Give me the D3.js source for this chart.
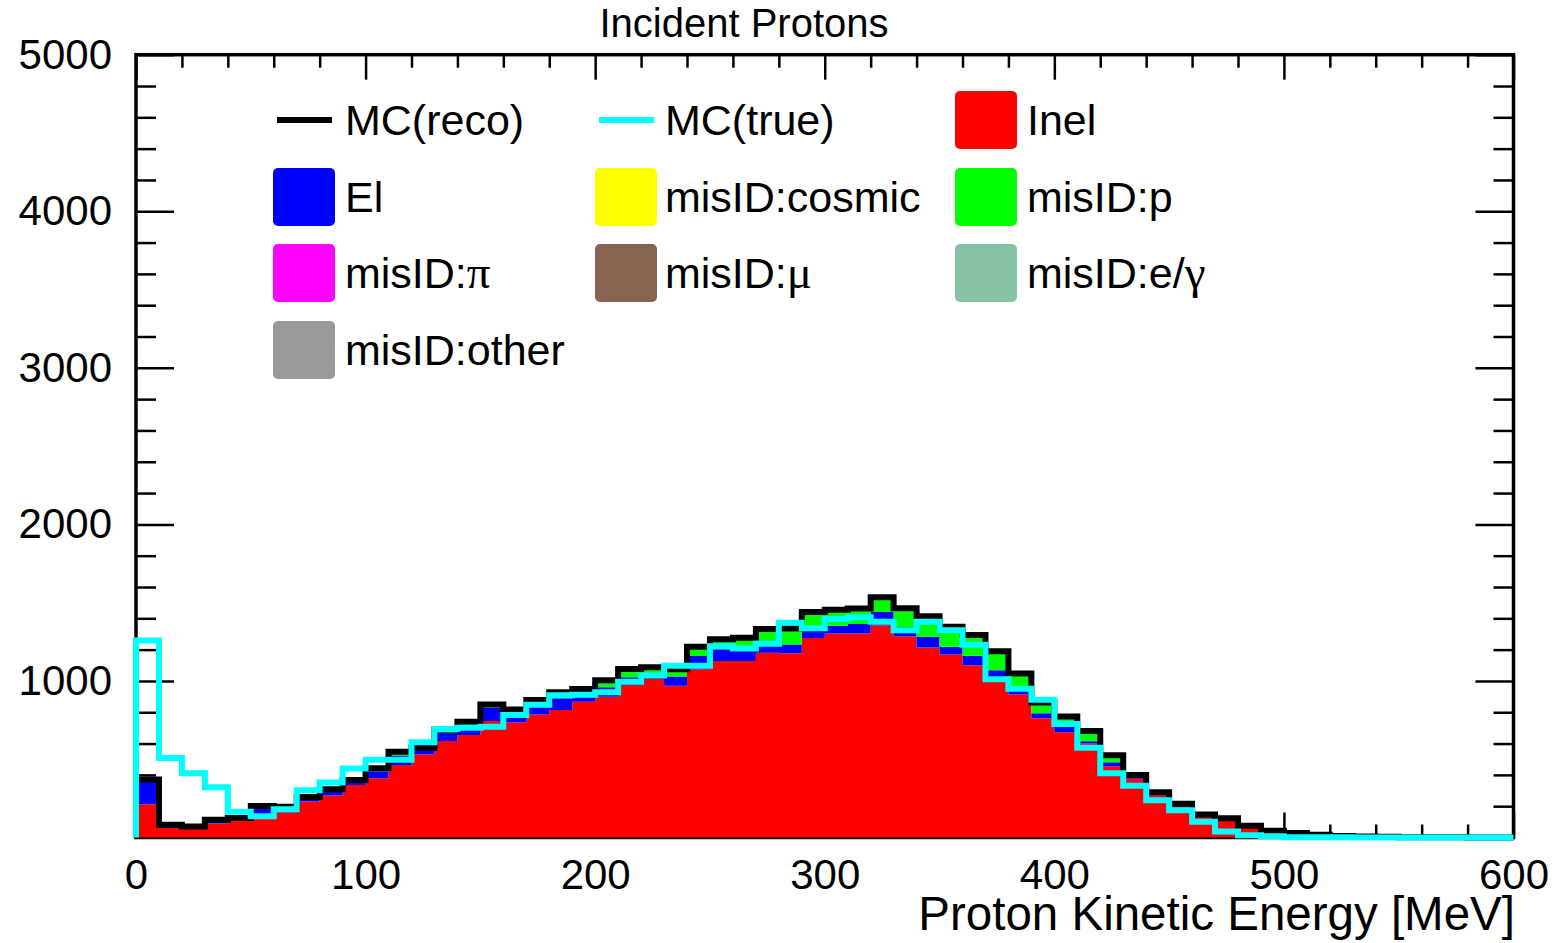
<!DOCTYPE html>
<html>
<head>
<meta charset="utf-8">
<script src="https://cdn.jsdelivr.net/npm/d3@7"></script>
<style>
  body { margin: 0; background: #fff; }
  svg text { font-family: "Liberation Sans", Arial, Helvetica, sans-serif; fill: #000; }
</style>
</head>
<body>
<script>
// 10 MeV bins, 0 - 600 MeV
var binLow = d3.range(0, 600, 10);

// stacked MC components (counts per bin)
var inel = [212,60,55,90,105,140,160,230,268,336,
            378,463,530,617,655,744,735,786,814,867,
            899,974,1012,969,1075,1127,1127,1180,1177,1275,
            1303,1303,1356,1285,1214,1169,1101,1000,914,761,
            672,600,455,375,270,200,135,105,62,35,
            24,15,8,5,3,2,1,1,0,0];
var el = [150,12,8,13,12,45,20,15,25,20,
          45,60,30,50,50,85,45,50,75,45,
          60,50,25,60,85,75,75,70,55,65,
          50,60,85,60,68,50,60,69,45,32,
          40,15,25,12,10,8,7,8,5,3,
          2,1,0,0,0,0,0,0,0,0];
var misIDcosmic = [0,0,0,0,0,0,0,0,0,0, 0,0,0,0,0,0,0,0,0,0, 0,0,0,0,0,0,0,0,0,0,
                   0,0,0,0,0,0,0,0,0,0, 0,0,0,0,0,0,0,0,0,0, 0,0,0,0,0,0,0,0,0,0];
var misIDp = [8,9,7,10,8,17,16,14,15,12,
              19,25,14,23,35,21,38,42,38,36,
              46,52,51,46,58,65,74,81,103,100,
              102,100,94,120,131,127,132,121,89,69,
              61,65,45,13,9,7,5,10,8,5,
              3,2,2,1,1,0,0,0,0,0];
var misIDpi = [0,0,0,0,0,0,0,0,0,0, 0,0,0,0,0,0,0,0,0,0, 0,0,0,0,0,0,0,0,0,0,
               0,0,0,0,0,0,0,0,0,0, 0,0,0,0,0,0,0,0,0,0, 0,0,0,0,0,0,0,0,0,0];
var misIDmu = [0,0,0,0,0,0,0,0,0,0, 0,0,0,0,0,0,0,0,0,0, 0,0,0,0,0,0,0,0,0,0,
               0,0,0,0,0,0,0,0,0,0, 0,0,0,0,0,0,0,0,0,0, 0,0,0,0,0,0,0,0,0,0];
var misIDeg = [0,0,0,0,0,0,0,0,0,0, 0,0,0,0,0,0,0,0,0,0, 0,0,0,0,0,0,0,0,0,0,
               0,0,0,0,0,0,0,0,0,0, 0,0,0,0,0,0,0,0,0,0, 0,0,0,0,0,0,0,0,0,0];
var misIDother = [0,0,0,0,0,0,0,0,0,0, 0,0,0,0,0,0,0,0,0,0, 0,0,0,0,0,0,0,0,0,0,
                  0,0,0,0,0,0,0,0,0,0, 0,0,0,0,0,0,0,0,0,0, 0,0,0,0,0,0,0,0,0,0];

// MC truth
var mcTrue = [1258,508,410,321,164,136,181,302,351,440,
              497,497,608,693,701,708,782,848,908,912,
              927,995,1035,1097,1097,1222,1207,1237,1371,1337,
              1395,1407,1378,1324,1378,1324,1231,1010,950,880,
              725,574,410,330,238,174,100,38,15,8,
              2,1,1,0,0,0,0,0,0,0];

var stackKeys = ["inel", "el", "cosmic", "p", "pi", "mu", "eg", "other"];
var stackColors = ["#ff0000", "#0000ff", "#ffff00", "#00ff00", "#ff00ff", "#866452", "#87c2a5", "#999999"];
var stackArrays = [inel, el, misIDcosmic, misIDp, misIDpi, misIDmu, misIDeg, misIDother];

var legendLabels = ["MC(reco)", "MC(true)", "Inel", "El", "misID:cosmic", "misID:p",
                    "misID:\u03c0", "misID:\u03bc", "misID:e/\u03b3", "misID:other"];
var legendColors = ["#000000", "#00ffff", "#ff0000", "#0000ff", "#ffff00", "#00ff00",
                    "#ff00ff", "#866452", "#87c2a5", "#999999"];
var legendKinds = ["line", "line", "box", "box", "box", "box", "box", "box", "box", "box"];

var xMajor = [0, 100, 200, 300, 400, 500, 600];
var yMajor = [1000, 2000, 3000, 4000, 5000];

var W = 1556, H = 943;
var x = d3.scaleLinear().domain([0, 600]).range([136, 1513.5]),
    y = d3.scaleLinear().domain([0, 5000]).range([837.5, 54.7]);

var svg = d3.select("body").append("svg")
    .attr("width", W)
    .attr("height", H);

svg.append("rect").attr("width", W).attr("height", H).attr("fill", "#fff");

// ---- ticks
var minorX = d3.range(0, 601, 20).filter(function(v) { return v % 100 != 0; });
var minorY = d3.range(0, 5001, 200).filter(function(v) { return v % 1000 != 0; });

function styleAxis(g) {
  g.select(".domain").remove();
  g.selectAll("line").attr("stroke", "#000").attr("stroke-width", 2.5);
  g.selectAll("text").style("font-size", "42px").attr("fill", "#000");
}

svg.append("g")
    .attr("transform", "translate(0," + y(0) + ")")
    .call(d3.axisBottom(x).tickValues(xMajor).tickSize(-25).tickPadding(22).tickFormat(d3.format("d")))
    .call(styleAxis);
svg.append("g")
    .attr("transform", "translate(0," + y(0) + ")")
    .call(d3.axisBottom(x).tickValues(minorX).tickSize(-13).tickFormat(""))
    .call(styleAxis);
svg.append("g")
    .attr("transform", "translate(0," + y(5000) + ")")
    .call(d3.axisTop(x).tickValues(xMajor).tickSize(-25).tickFormat(""))
    .call(styleAxis);
svg.append("g")
    .attr("transform", "translate(0," + y(5000) + ")")
    .call(d3.axisTop(x).tickValues(minorX).tickSize(-13).tickFormat(""))
    .call(styleAxis);

svg.append("g")
    .attr("transform", "translate(" + x(0) + ",0)")
    .call(d3.axisLeft(y).tickValues(yMajor).tickSize(-38).tickPadding(24).tickFormat(d3.format("d")))
    .call(styleAxis);
svg.append("g")
    .attr("transform", "translate(" + x(0) + ",0)")
    .call(d3.axisLeft(y).tickValues(minorY).tickSize(-20).tickFormat(""))
    .call(styleAxis);
svg.append("g")
    .attr("transform", "translate(" + x(600) + ",0)")
    .call(d3.axisRight(y).tickValues(yMajor).tickSize(-38).tickFormat(""))
    .call(styleAxis);
svg.append("g")
    .attr("transform", "translate(" + x(600) + ",0)")
    .call(d3.axisRight(y).tickValues(minorY).tickSize(-20).tickFormat(""))
    .call(styleAxis);

// frame
svg.append("rect")
    .attr("x", x(0)).attr("y", y(5000))
    .attr("width", x(600) - x(0)).attr("height", y(0) - y(5000))
    .attr("fill", "none").attr("stroke", "#000").attr("stroke-width", 3.5);

// ---- stacked histogram
var table = binLow.map(function(lo, i) {
  var row = {lo: lo};
  stackKeys.forEach(function(k, j) { row[k] = stackArrays[j][i]; });
  return row;
});
// extra point at upper edge so the last step closes at 600
var last = Object.assign({}, table[table.length - 1]); last.lo = 600;
var tableExt = table.concat([last]);

var series = d3.stack().keys(stackKeys)(tableExt);

var area = d3.area()
    .curve(d3.curveStepAfter)
    .x(function(d) { return x(d.data.lo); })
    .y0(function(d) { return y(d[0]); })
    .y1(function(d) { return y(d[1]); });

svg.append("g").selectAll("path")
    .data(series)
  .enter().append("path")
    .attr("d", area)
    .attr("fill", function(d, i) { return stackColors[i]; })
    .attr("stroke", "none");

// outline helpers
function stepPoints(vals) {
  var pts = [[0, 0]];
  vals.forEach(function(v, i) { pts.push([binLow[i], v]); });
  pts.push([600, 0]);
  return pts;
}
var stepLine = d3.line()
    .curve(d3.curveStepAfter)
    .x(function(d) { return x(d[0]); })
    .y(function(d) { return y(d[1]); });

// MC(reco) = top of the stack
var topLayer = series[series.length - 1];
var recoTotal = table.map(function(d, i) { return topLayer[i][1]; });

svg.append("path")
    .attr("d", stepLine(stepPoints(recoTotal)))
    .attr("fill", "none").attr("stroke", "#000").attr("stroke-width", 6);

svg.append("path")
    .attr("d", stepLine(stepPoints(mcTrue)))
    .attr("fill", "none").attr("stroke", "#00ffff").attr("stroke-width", 6);

// ---- legend
var colMarkX = [273, 595, 955], colTextX = [345, 665, 1027];
var rowY = [120, 197, 273, 350];

var legend = svg.selectAll(".legend")
    .data(legendLabels)
  .enter().append("g")
    .attr("class", "legend")
    .attr("transform", function(d, i) {
      return "translate(" + colMarkX[i % 3] + "," + rowY[Math.floor(i / 3)] + ")";
    });

legend.each(function(d, i) {
  var g = d3.select(this);
  if (legendKinds[i] == "line") {
    g.append("line")
        .attr("x1", 4).attr("x2", 59).attr("y1", 0).attr("y2", 0)
        .attr("stroke", legendColors[i]).attr("stroke-width", 6);
  } else {
    g.append("rect")
        .attr("x", 0).attr("y", -29).attr("width", 62).attr("height", 58)
        .attr("rx", 5)
        .attr("fill", legendColors[i]);
  }
  var t = g.append("text")
      .attr("x", colTextX[i % 3] - colMarkX[i % 3])
      .attr("y", 15)
      .style("font-size", "43px");
  var m = d.match(/^(.*?)([\u03b3\u03bc\u03c0])$/);
  if (m) {
    t.append("tspan").text(m[1]);
    t.append("tspan")
        .style("font-family", "'Liberation Serif', 'DejaVu Serif', serif")
        .style("font-size", "47px")
        .text(m[2]);
  } else {
    t.text(d);
  }
});

// ---- titles
svg.append("text")
    .attr("x", 744).attr("y", 37)
    .attr("text-anchor", "middle")
    .style("font-size", "40px")
    .text("Incident Protons");

svg.append("text")
    .attr("x", 1515).attr("y", 930)
    .attr("text-anchor", "end")
    .style("font-size", "47.5px")
    .text("Proton Kinetic Energy [MeV]");
</script>
</body>
</html>
